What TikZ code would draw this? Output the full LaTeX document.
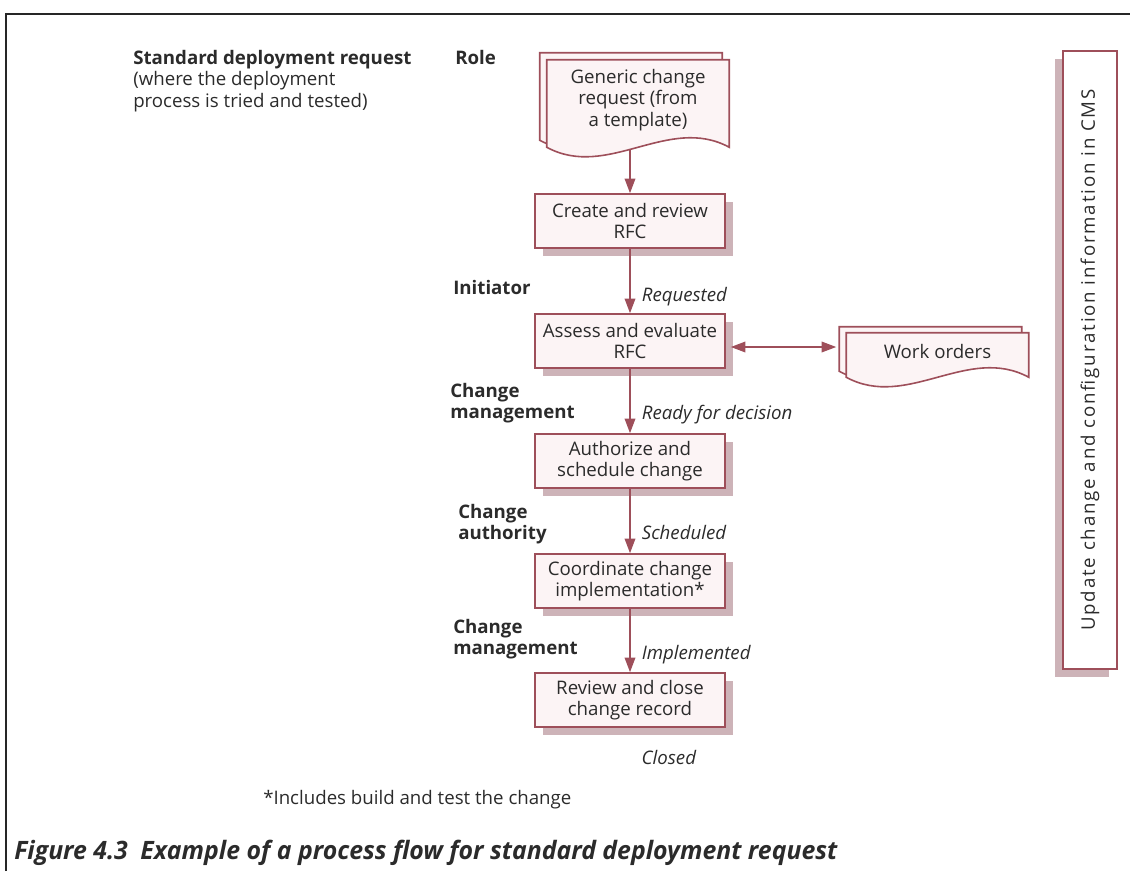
\documentclass[tikz,border=0pt]{standalone}
\usepackage{fontspec}
\setmainfont{Open Sans}
\usetikzlibrary{arrows.meta,positioning,backgrounds,shadows}
\definecolor{rfcline}{HTML}{9E4F5A}
\definecolor{rfcfill}{HTML}{FCF4F5}
\definecolor{rfcshadow}{HTML}{CDB3B8}
\definecolor{inktext}{HTML}{2B2B2B}
\newcommand{\sizebody}{\fontsize{14}{16}\selectfont}
% sheet of paper with a wavy lower edge round node #1, moved by #2
\newcommand{\papersheet}[2]{%
  \draw[sheet] ([shift={#2}]#1.north west) -- ([shift={#2}]#1.north east)
    -- ([shift={#2},yshift=-5.25pt]#1.south east)
    .. controls +(-61,-33) and +(61,33) .. ([shift={#2},yshift=-5.25pt]#1.south west) -- cycle;}

\begin{document}
\begin{tikzpicture}[x=0.75pt, y=-0.75pt,
 box/.style={draw=rfcline, fill=rfcfill, line width=1.2pt, minimum width=142.5pt, minimum height=40.5pt,
             inner sep=0pt, align=center, font=\sizebody, text=inktext,
             drop shadow={shadow xshift=6pt, shadow yshift=-6pt, fill=rfcshadow, opacity=1}},
 cms/.style={draw=rfcline, fill=white, line width=1.2pt, minimum width=40.5pt, minimum height=463.5pt,
             inner sep=0pt, font=\sizebody\addfontfeature{LetterSpace=10}, text=inktext,
             drop shadow={shadow xshift=-6pt, shadow yshift=-6pt, fill=rfcshadow, opacity=1}},
 doc/.style={inner sep=0pt, align=center, minimum width=136.5pt, font=\sizebody, text=inktext},
 sheet/.style={draw=rfcline, fill=rfcfill, line width=1.2pt},
 role/.style={anchor=west, align=left, inner sep=0pt, font=\sizebody\bfseries, text=inktext},
 state/.style={font=\sizebody\itshape, text=inktext},
 ar/.style={draw=rfcline, line width=1.1pt, -{Triangle[length=11pt,width=8pt]}},
 dar/.style={draw=rfcline, line width=1.1pt, {Triangle[length=11pt,width=8pt]}-{Triangle[length=11pt,width=8pt]}},
]
 \useasboundingbox (0,0) rectangle (1130,871);
 % page frame
 \draw[line width=1.6pt, black!85] (6,871) -- (6,14) -- (1130,14);

 \node[role, font=\sizebody] (std) at (133,81) {\textbf{Standard deployment request}\\(where the deployment\\process is tried and tested)};
 \node[role] (rolehead) at (455,57) {Role};
 \node[role] (initiator) at (453,287) {Initiator};
 \node[role] (chmgmt) at (450,403) {Change\\management};
 \node[role] (chauth) at (458,524) {Change\\authority};
 \node[role] (chmgmt2) at (453,639) {Change\\management};

 \node[doc, minimum height=60pt] (gcr) at (638,100) {Generic change\\request (from\\a template)};
 \node[box] (create) at (630,221) {Create and review\\RFC};
 \node[box] (assess) at (630,341) {Assess and evaluate\\RFC};
 \node[box] (auth) at (630,461) {Authorize and\\schedule change};
 \node[box] (coord) at (630,581) {Coordinate change\\implementation*};
 \node[box] (review) at (630,700) {Review and close\\change record};
 \node[doc, minimum height=27.75pt] (wo) at (937.5,351.5) {Work orders};
 \node[cms] (cms) at (1090,360) {\rotatebox{90}{Update change and configuration information in CMS}};

 \begin{scope}[on background layer]
  \papersheet{gcr}{(-7,-7)}
  \papersheet{gcr}{(0,0)}
  \papersheet{wo}{(-7,-6)}
  \papersheet{wo}{(0,0)}
 \end{scope}

 \draw[ar] (create.north |- gcr.south) ++(0,9) -- (create.north);
 \draw[ar] (create) -- node[state, pos=0.74, right=5pt] {Requested} (assess);
 \draw[ar] (assess) -- node[state, pos=0.71, right=5pt] {Ready for decision} (auth);
 \draw[ar] (auth) -- node[state, pos=0.68, right=5pt] {Scheduled} (coord);
 \draw[ar] (coord) -- node[state, pos=0.72, right=5pt] {Implemented} (review);
 \draw[dar] ([shift={(5,6)}]assess.east) -- ([shift={(-10,-4.5)}]wo.west);
 \node[state, anchor=west] (closed) at (637,757) {Closed};

 \node[anchor=west, inner sep=0pt, font=\sizebody, text=inktext] (note) at (263,800) {*Includes build and test the change};
 \node[anchor=west, inner sep=0pt, font=\fontsize{19}{22}\selectfont\bfseries\itshape, text=inktext] (caption) at (14,853)
   {\scalebox{0.98}[1]{Figure 4.3\enspace Example of a process flow for standard deployment request}};
\end{tikzpicture}
\end{document}
